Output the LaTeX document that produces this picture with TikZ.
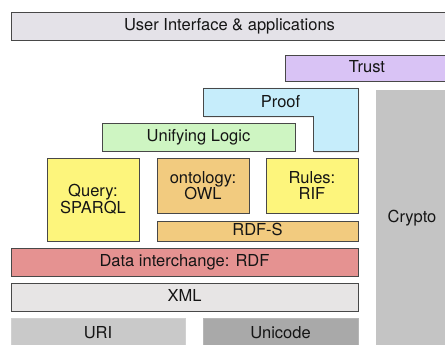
\documentclass[tikz,border=0pt]{standalone}
\usepackage{fontspec}
\setmainfont{TeX Gyre Heros}
\usetikzlibrary{shadows}
\definecolor{uicol}{HTML}{E4E2E8}
\definecolor{trustcol}{HTML}{D9C3F5}
\definecolor{proofcol}{HTML}{C6EDFB}
\definecolor{logiccol}{HTML}{CEF5C2}
\definecolor{yelcol}{HTML}{FDF57C}
\definecolor{orgcol}{HTML}{F2CB7F}
\definecolor{rdfcol}{HTML}{E59291}
\definecolor{xmlcol}{HTML}{E7E5E5}
\definecolor{uricol}{HTML}{C9C9C9}
\definecolor{unicol}{HTML}{A9A9A9}
\definecolor{cryptocol}{HTML}{C4C4C4}
\definecolor{edgecol}{HTML}{484848}
\definecolor{txtcol}{HTML}{151515}
\tikzset{
  layer/.style={draw=edgecol, line width=0.9pt, inner sep=0pt, outer sep=0pt,
    text=txtcol, font=\fontsize{16.5}{17}\selectfont,
    drop shadow={shadow xshift=1.2pt, shadow yshift=-1.4pt, opacity=0.4}},
  oneline/.style={text height=9.5pt, text depth=0pt},
  multi/.style={align=center},
  plain/.style={draw=none, inner sep=0pt, outer sep=0pt},
  lbl/.style={inner sep=0pt, text=txtcol, font=\fontsize{16.5}{17}\selectfont,
    text height=9.5pt, text depth=0pt}
}
\begin{document}
\begin{tikzpicture}[x=1pt,y=-1pt]
\useasboundingbox (0,0) rectangle (445,345);
\clip (0,0) rectangle (445,345);
\fill[white] (0,0) rectangle (445,345);
% Crypto column
\node[plain, fill=cryptocol, minimum width=76pt, minimum height=262pt] (crypto) at (414,221) {};
\node[lbl] (cryptotxt) at (412,218) {Crypto};
% layers
\node[layer, oneline, fill=uicol, minimum width=437pt, minimum height=28pt] (ui) at (229.5,26) {User Interface \& applications};
\node[layer, oneline, fill=trustcol, minimum width=164pt, minimum height=26pt] (trust) at (367,68) {Trust};
\draw[draw=edgecol, line width=0.9pt, fill=proofcol,
  drop shadow={shadow xshift=1.2pt, shadow yshift=-1.4pt, opacity=0.4}]
  (203,88) -- (358,88) -- (358,151) -- (313,151) -- (313,116) -- (203,116) -- cycle;
\node[lbl] (proof) at (280.5,102.5) {Proof};
\node[layer, oneline, fill=logiccol, minimum width=193pt, minimum height=28pt] (logic) at (198.5,137) {Unifying Logic};
\node[layer, multi, fill=yelcol, minimum width=92pt, minimum height=83pt] (query) at (93,199.5) {Query:\\[-0.5pt]SPARQL};
\node[layer, multi, fill=orgcol, minimum width=92pt, minimum height=55pt] (owl) at (203,185.5) {ontology:\\[-0.5pt]OWL};
\node[layer, multi, fill=yelcol, minimum width=92pt, minimum height=55pt] (rif) at (312,185.5) {Rules:\\[-0.5pt]RIF};
\node[layer, oneline, fill=orgcol, minimum width=201pt, minimum height=20pt] (rdfs) at (257.5,231) {RDF-S};
\node[layer, oneline, fill=rdfcol, minimum width=347pt, minimum height=28pt] (rdf) at (184.5,262) {Data interchange: RDF};
\node[layer, oneline, fill=xmlcol, minimum width=347pt, minimum height=28pt] (xml) at (184.5,297) {XML};
\node[plain, draw=uricol!85!white, fill=uricol, minimum width=174pt, minimum height=32pt] (uri) at (98,334) {};
\node[lbl] (uritxt) at (98,333.5) {URI};
\node[plain, draw=unicol!85!white, fill=unicol, minimum width=155pt, minimum height=32pt] (uni) at (280.5,334) {};
\node[lbl] (unitxt) at (280.5,333.5) {Unicode};
\end{tikzpicture}
\end{document}
